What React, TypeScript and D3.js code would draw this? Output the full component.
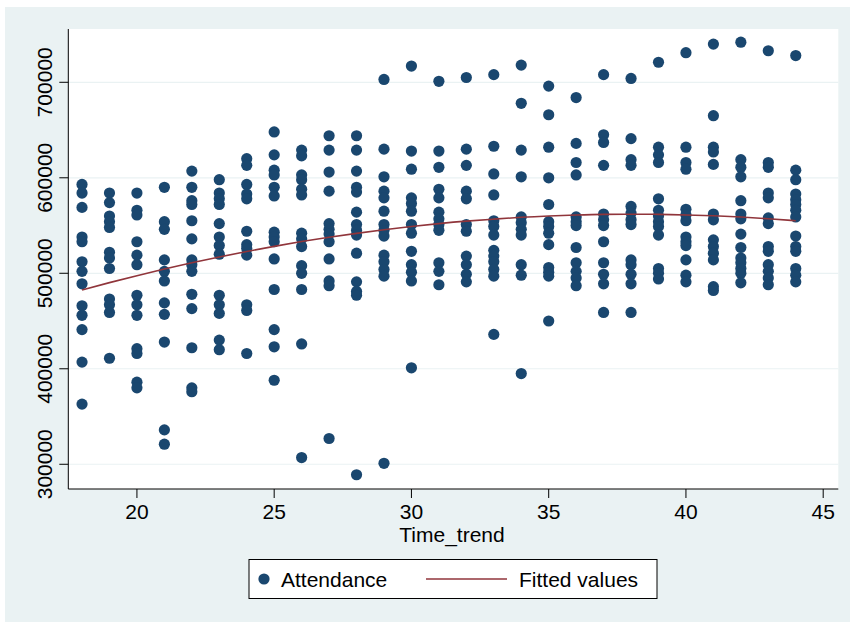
import React from 'react'
import * as d3 from 'd3'

// x categories (Time_trend) and attendance per category (thousands)
const timeTrend = [18, 19, 20, 21, 22, 23, 24, 25, 26, 27, 28, 29, 30, 31, 32, 33, 34, 35, 36, 37, 38, 39, 40, 41, 42, 43, 44]

const attendance = [
  [593, 584, 569, 538, 533, 512, 502, 489, 466, 456, 441, 407, 363],
  [584, 574, 560, 554, 548, 522, 516, 505, 473, 467, 459, 411],
  [584, 566, 561, 533, 519, 509, 477, 467, 456, 421, 416, 386, 380],
  [590, 554, 546, 514, 502, 492, 469, 457, 428, 336, 321],
  [607, 590, 576, 572, 555, 536, 514, 509, 502, 478, 463, 422, 380, 376],
  [598, 584, 578, 572, 552, 538, 529, 520, 477, 467, 458, 430, 420],
  [620, 613, 593, 583, 578, 544, 530, 526, 519, 467, 461, 416],
  [648, 624, 608, 603, 590, 581, 543, 538, 533, 515, 483, 441, 423, 388],
  [629, 623, 603, 598, 588, 582, 542, 536, 528, 508, 500, 483, 426, 307],
  [644, 629, 606, 586, 552, 546, 541, 533, 515, 492, 487, 327],
  [644, 629, 607, 590, 585, 564, 551, 545, 540, 521, 491, 481, 477, 289],
  [703, 630, 601, 586, 579, 565, 551, 545, 539, 519, 512, 504, 497, 301],
  [717, 628, 609, 579, 573, 565, 551, 542, 523, 509, 501, 492, 401],
  [701, 628, 611, 588, 579, 564, 557, 551, 545, 511, 502, 488],
  [705, 630, 613, 586, 578, 551, 544, 518, 509, 499, 491],
  [708, 633, 604, 582, 555, 549, 540, 524, 518, 512, 504, 497, 436],
  [718, 678, 629, 601, 559, 553, 546, 540, 509, 498, 395],
  [696, 666, 632, 600, 572, 554, 549, 542, 530, 506, 501, 497, 450],
  [684, 636, 616, 603, 559, 554, 550, 527, 511, 502, 495, 487],
  [708, 645, 637, 613, 562, 556, 550, 533, 511, 499, 489, 459],
  [704, 641, 619, 613, 570, 563, 556, 551, 514, 509, 499, 489, 459],
  [721, 632, 624, 616, 578, 566, 560, 554, 549, 540, 505, 500, 494],
  [731, 632, 616, 609, 567, 561, 555, 538, 533, 529, 514, 498, 491],
  [740, 665, 632, 627, 614, 562, 556, 535, 528, 521, 514, 486, 482],
  [742, 619, 611, 601, 576, 562, 557, 541, 527, 516, 511, 505, 500, 490],
  [733, 616, 611, 584, 579, 558, 552, 528, 523, 509, 502, 495, 488],
  [728, 608, 598, 583, 577, 572, 566, 559, 539, 528, 523, 505, 498, 491],
]

// fitted values, one per Time_trend (thousands)
const fitted = [482.5, 490.2, 497.5, 504.5, 511.0, 517.1, 522.8, 528.2, 533.2, 537.7, 541.8, 545.6, 549.0, 552.0, 554.6, 556.7, 558.6, 560.0, 561.0, 561.7, 561.8, 561.7, 561.1, 560.2, 558.9, 557.1, 555.0]

const xTicks = [20, 25, 30, 35, 40, 45]
const yTicks = [300000, 400000, 500000, 600000, 700000]

const W = 850
const H = 622
const left = 68.3, right = 838.3, top = 29, bottom = 489
const navy = '#1a476f'
const maroon = '#90353b'
const font = 'Liberation Sans, Arial, Helvetica, sans-serif'

export default function App() {
  const x = d3.scaleLinear().domain([17.5, 45.55]).range([left, right])
  const y = d3.scaleLinear().domain([274100, 755800]).range([bottom, top])

  const points = timeTrend.flatMap((t, i) => attendance[i].map(v => ({ t, v: v * 1000 })))

  const line = d3.line<number>()
    .x((d, i) => x(timeTrend[i]))
    .y(d => y(d * 1000))
    .curve(d3.curveNatural)

  return (
    <svg width={W} height={H} style={{ position: 'absolute', left: 0, top: 0, display: 'block' }} fontFamily={font}>
      <rect x={0} y={0} width={W} height={H} fill="#fff" />
      <rect x={5} y={7} width={W - 5} height={H - 7} fill="#eaf2f3" />
      <rect x={left} y={top} width={right - left} height={bottom - top} fill="#fff" />

      {yTicks.map(t => (
        <line key={t} x1={left} x2={right} y1={y(t)} y2={y(t)} stroke="#eaf2f3" strokeWidth={1.2} />
      ))}

      {points.map((p, i) => (
        <circle key={i} cx={x(p.t)} cy={y(p.v)} r={5.6} fill={navy} />
      ))}

      <path d={line(fitted) || ''} fill="none" stroke={maroon} strokeWidth={1.6} />

      {/* axes */}
      <line x1={left} x2={left} y1={top} y2={bottom} stroke="#000" strokeWidth={1} />
      <line x1={left} x2={right} y1={bottom} y2={bottom} stroke="#000" strokeWidth={1} />

      {yTicks.map(t => (
        <g key={t}>
          <line x1={left - 9} x2={left} y1={y(t)} y2={y(t)} stroke="#000" />
          <text transform={`translate(52,${y(t)}) rotate(-90)`} textAnchor="middle" fontSize={21} fill="#000">{t}</text>
        </g>
      ))}

      {xTicks.map(t => (
        <g key={t}>
          <line x1={x(t)} x2={x(t)} y1={bottom} y2={bottom + 9} stroke="#000" />
          <text x={x(t)} y={519} textAnchor="middle" fontSize={21} fill="#000">{t}</text>
        </g>
      ))}

      <text x={452} y={542} textAnchor="middle" fontSize={21} fill="#000">Time_trend</text>

      {/* legend */}
      <rect x={249} y={559.5} width={408} height={39} fill="#fff" stroke="#000" strokeWidth={1} />
      <circle cx={264} cy={579} r={5.6} fill={navy} />
      <text x={281} y={587} fontSize={21} fill="#000">Attendance</text>
      <line x1={426} x2={507} y1={579} y2={579} stroke={maroon} strokeWidth={1.6} />
      <text x={519} y={587} fontSize={21} fill="#000">Fitted values</text>
    </svg>
  )
}
